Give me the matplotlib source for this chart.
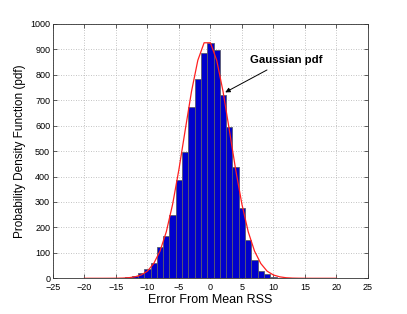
import matplotlib
matplotlib.use("Agg")
import matplotlib.pyplot as plt

# ---- data ----
bin_centers = [-15, -14, -13, -12, -11, -10, -9, -8, -7, -6, -5, -4, -3, -2, -1,
               0, 1, 2, 3, 4, 5, 6, 7, 8, 9, 10, 11, 12, 18]
bin_counts = [1, 2, 4, 10, 20, 37, 59, 124, 166, 249, 386, 496, 673, 785, 886,
              927, 897, 720, 594, 439, 275, 149, 73, 28, 16, 6, 2, 1, 3]

curve_x = list(range(-20, 21))
curve_y = [0, 0, 0, 0, 0.1, 0.3, 0.8, 2.2, 5.7, 13, 28, 58, 107, 183, 291,
           428, 583, 735, 857, 926, 926, 857, 735, 583, 428, 291, 183, 107, 58,
           28, 13, 5.7, 2.2, 0.8, 0.3, 0.1, 0, 0, 0, 0, 0]

x_ticks = [-25, -20, -15, -10, -5, 0, 5, 10, 15, 20, 25]
y_ticks = [0, 100, 200, 300, 400, 500, 600, 700, 800, 900, 1000]

plt.rcParams['font.family'] = ['Liberation Sans', 'DejaVu Sans']

fig = plt.figure(figsize=(4.07, 3.14), dpi=100)
ax = fig.add_axes([0.130, 0.1137, 0.774, 0.81])

ax.bar(bin_centers, bin_counts, width=1.0, align='center',
       color='#0000cc', edgecolor='#5a5a6e', linewidth=0.6, zorder=2)
ax.plot(curve_x, curve_y, color='#ff2020', linewidth=0.9, zorder=3)

ax.set_xlim(-25, 25)
ax.set_ylim(0, 1000)
ax.set_xticks(x_ticks)
ax.set_yticks(y_ticks)
ax.set_xticklabels([str(t).replace('-', '\u2212') for t in x_ticks])
ax.grid(True, linestyle=(0, (1, 2)), color='#b0b0b0', linewidth=0.6, zorder=0)
ax.set_axisbelow(True)

ax.tick_params(direction='in', length=3, width=0.5, labelsize=6.5,
               top=True, right=True, colors='#222222', labelcolor='black')
ax.tick_params(axis='x', pad=3.5)
ax.tick_params(axis='y', pad=2)
for s in ax.spines.values():
    s.set_linewidth(0.6)
    s.set_color('#333333')

ax.set_xlabel('Error From Mean RSS', fontsize=9, labelpad=1.5)
ax.set_ylabel('Probability Density Function (pdf)', fontsize=8.5, labelpad=3)

ax.annotate('Gaussian pdf', xy=(2.35, 731), xytext=(6.3, 860),
            fontsize=8.2, fontweight='bold', va='center', ha='left',
            arrowprops=dict(arrowstyle='-|>', color='black', lw=0.7,
                            shrinkA=4, shrinkB=0, mutation_scale=7),
            zorder=5)

fig.savefig('out.png', dpi=100)
